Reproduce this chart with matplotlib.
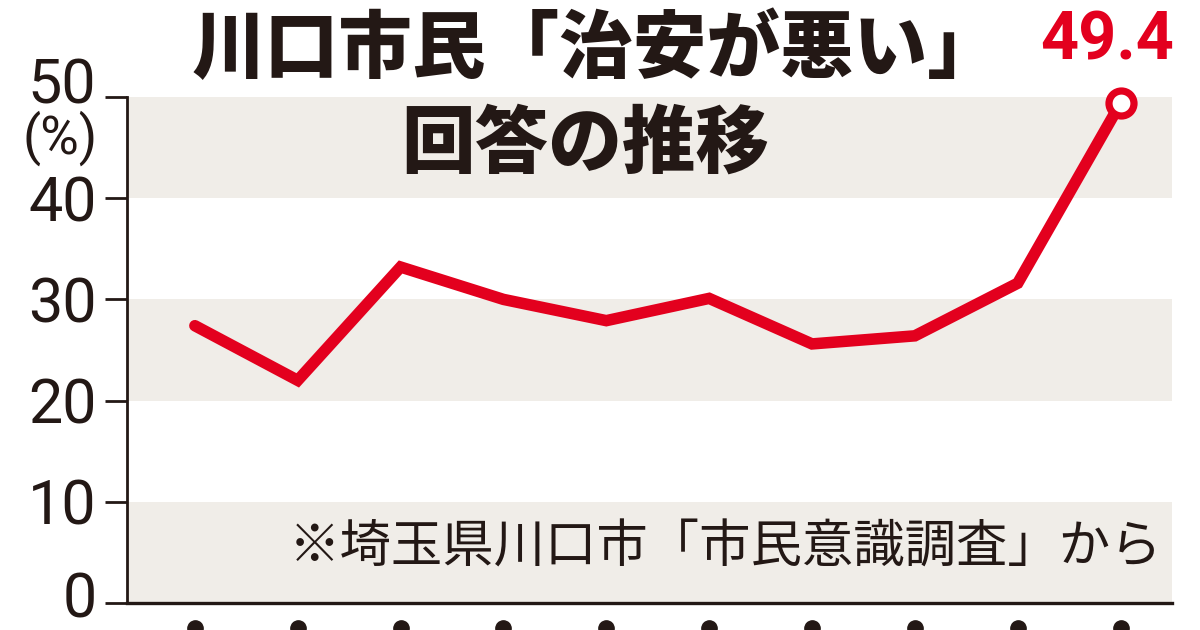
import matplotlib
matplotlib.use("Agg")
import matplotlib.pyplot as plt
import matplotlib.transforms as mtransforms

# ---- data ----
surveys = list(range(10))
values = [27.4, 22.0, 33.2, 30.0, 27.9, 30.1, 25.6, 26.4, 31.6, 49.4]
y_ticks = [0, 10, 20, 30, 40, 50]
band_ranges = [(0, 10), (20, 30), (40, 50)]
title_line1 = "川口市民「治安が悪い」"
title_line2 = "回答の推移"
note_text = "※埼玉県川口市「市民意識調査」から"
last_label = "49.4"
unit_label = "(%)"

RED = "#E3001E"
BAND = "#F0EDE8"
INK = "#231815"

plt.rcParams['font.family'] = ['Noto Sans CJK JP', 'DejaVu Sans']

fig = plt.figure(figsize=(12, 6.3), dpi=100)
ax = fig.add_axes([127/1200, 1-603/630, (1172-127)/1200, (603-97)/630])

for lo, hi in band_ranges:
    ax.axhspan(lo, hi, color=BAND, lw=0, zorder=0)

ax.plot(surveys, values, color=RED, lw=8.3, solid_joinstyle='miter',
        solid_capstyle='round', zorder=3)
ax.plot([surveys[-1]], [values[-1]], 'o', ms=18, mfc='white', mec=RED,
        mew=5.2, zorder=4, clip_on=False)

ax.set_xlim(-0.66, 9.5)
ax.set_ylim(0, 50)

for s in ['top', 'right']:
    ax.spines[s].set_visible(False)
ax.spines['left'].set_linewidth(2.0)
ax.spines['bottom'].set_linewidth(2.4)
ax.spines['left'].set_color(INK)
ax.spines['bottom'].set_color(INK)

ax.set_yticks(y_ticks)
ax.set_yticklabels([str(v) for v in y_ticks], fontsize=44,
                   family=['Roboto', 'DejaVu Sans'], color=INK)
ax.tick_params(axis='y', length=16, width=2.0, color=INK, pad=6, direction='out')
ax.set_xticks([])
# the top label "50" sits a bit above its tick, "0" slightly raised
lbls = ax.get_yticklabels()
lbls[-1].set_transform(lbls[-1].get_transform() +
                       mtransforms.ScaledTranslation(0, 17/100, fig.dpi_scale_trans))
lbls[0].set_transform(lbls[0].get_transform() +
                      mtransforms.ScaledTranslation(0, 9/100, fig.dpi_scale_trans))

# dots below x-axis
ax.plot(surveys, [-0.05]*len(surveys), 'o', ms=11, color=INK,
        transform=ax.get_xaxis_transform(), clip_on=False)

# unit label
fig.text(60/1200, 1-138/630, unit_label, fontsize=38, ha='center', va='center',
         family=['Roboto', 'DejaVu Sans'], color=INK)

# title
fig.text(596/1200, 1-50/630, title_line1, fontsize=53, fontweight='heavy',
         ha='center', va='center', color=INK)
fig.text(585/1200, 1-145/630, title_line2, fontsize=53, fontweight='heavy',
         ha='center', va='center', color=INK)

# value label
ax.annotate(last_label, xy=(surveys[-1], values[-1]), xytext=(-10, 44),
            textcoords='offset points', ha='center', va='center',
            fontsize=48, fontweight='bold', color=RED,
            family=['Roboto', 'DejaVu Sans'], annotation_clip=False)

# note
fig.text(1162/1200, 1-548/630, note_text, fontsize=37, ha='right', va='center',
         color=INK)

fig.savefig("out.png", dpi=100)
